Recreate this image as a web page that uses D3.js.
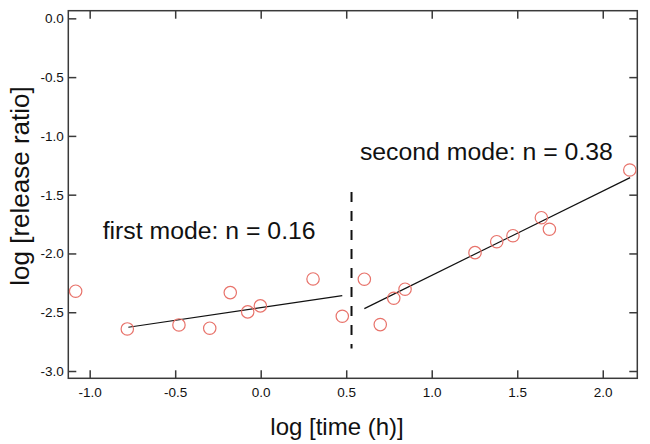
<!DOCTYPE html>
<html>
<head>
<meta charset="utf-8">
<script src="https://cdn.jsdelivr.net/npm/d3@7"></script>
<style>
  html, body { margin: 0; padding: 0; background: #fff; }
  svg { display: block; }
  text { font-family: "Liberation Sans", Arial, Helvetica, sans-serif; }
</style>
</head>
<body>
<svg id="chart" width="650" height="444"></svg>
<script>
// ---- data ----
const logTime = [-1.082, -0.780, -0.478, -0.298, -0.178, -0.076, -0.002, 0.306, 0.477,
                 0.606, 0.699, 0.778, 0.844, 1.253, 1.380, 1.475, 1.641, 1.688, 2.158];
const logRelease = [-2.321, -2.642, -2.608, -2.636, -2.333, -2.497, -2.446, -2.217, -2.534,
                    -2.219, -2.605, -2.381, -2.304, -1.993, -1.900, -1.849, -1.696, -1.794, -1.290];
const firstFitX = [-0.774, 0.477];
const firstFitY = [-2.628, -2.359];
const secondFitX = [0.606, 2.160];
const secondFitY = [-2.469, -1.355];
const dividerX = [0.531, 0.531];
const dividerY = [-1.477, -2.808];
const xTicks = [-1.0, -0.5, 0.0, 0.5, 1.0, 1.5, 2.0];
const xTickLabels = ["-1.0", "-0.5", "0.0", "0.5", "1.0", "1.5", "2.0"];
const yTicks = [0.0, -0.5, -1.0, -1.5, -2.0, -2.5, -3.0];
const yTickLabels = ["0.0", "-0.5", "-1.0", "-1.5", "-2.0", "-2.5", "-3.0"];
const annotations = [
  { text: "first mode: n = 0.16", x: -0.924, y: -1.88 },
  { text: "second mode: n = 0.38", x: 0.580, y: -1.201 }
];

// ---- layout ----
const L = 68.3, R = 637.3, T = 10.7, B = 378.3;
const svg = d3.select("#chart");
const x = d3.scaleLinear().domain([-1.125, 2.202]).range([L, R]);
const y = d3.scaleLinear().domain([0.065, -3.062]).range([T, B]);

const frameColor = "#3a3a3a";
const tickFont = 13.5;

function styleAxis(g) {
  g.select(".domain").remove();
  g.selectAll(".tick line").attr("stroke", frameColor).attr("stroke-width", 1.5);
  g.selectAll(".tick text").attr("fill", "#111").style("font-size", tickFont + "px");
}

svg.append("g").attr("transform", `translate(0,${B})`)
  .call(d3.axisBottom(x).tickValues(xTicks).tickSizeInner(-8).tickSizeOuter(0)
        .tickPadding(9.5).tickFormat((d, i) => xTickLabels[i]))
  .call(styleAxis);
svg.append("g").attr("transform", `translate(0,${T})`)
  .call(d3.axisTop(x).tickValues(xTicks).tickSizeInner(-8).tickSizeOuter(0).tickFormat(""))
  .call(styleAxis);
svg.append("g").attr("transform", `translate(${L},0)`)
  .call(d3.axisLeft(y).tickValues(yTicks).tickSizeInner(-8).tickSizeOuter(0)
        .tickPadding(4.5).tickFormat((d, i) => yTickLabels[i]))
  .call(styleAxis);
svg.append("g").attr("transform", `translate(${R},0)`)
  .call(d3.axisRight(y).tickValues(yTicks).tickSizeInner(-8).tickSizeOuter(0).tickFormat(""))
  .call(styleAxis);

// frame
svg.append("rect").attr("x", L).attr("y", T).attr("width", R - L).attr("height", B - T)
  .attr("fill", "none").attr("stroke", frameColor).attr("stroke-width", 1.5);

// fit lines
const line = d3.line().x(d => x(d[0])).y(d => y(d[1]));
svg.append("path").datum(d3.zip(firstFitX, firstFitY)).attr("d", line)
  .attr("fill", "none").attr("stroke", "#111").attr("stroke-width", 1.2);
svg.append("path").datum(d3.zip(secondFitX, secondFitY)).attr("d", line)
  .attr("fill", "none").attr("stroke", "#111").attr("stroke-width", 1.2);

// divider
svg.append("path").datum(d3.zip(dividerX, dividerY)).attr("d", line)
  .attr("fill", "none").attr("stroke", "#111").attr("stroke-width", 2)
  .attr("stroke-dasharray", "10,9");

// points
svg.append("g").selectAll("circle").data(d3.zip(logTime, logRelease)).join("circle")
  .attr("cx", d => x(d[0])).attr("cy", d => y(d[1])).attr("r", 6.2)
  .attr("fill", "none").attr("stroke", "#e8736b").attr("stroke-width", 1.2);

// annotations
svg.append("g").selectAll("text").data(annotations).join("text")
  .attr("x", d => x(d.x)).attr("y", d => y(d.y))
  .attr("fill", "#111").style("font-size", "24.8px")
  .text(d => d.text);

// axis titles
svg.append("text").attr("x", 337).attr("y", 434.5).attr("text-anchor", "middle")
  .attr("fill", "#111").style("font-size", "24px").text("log [time (h)]");
svg.append("text").attr("transform", "translate(28.5,186) rotate(-90)")
  .attr("text-anchor", "middle").attr("fill", "#111").style("font-size", "26px")
  .text("log [release ratio]");
</script>
</body>
</html>
